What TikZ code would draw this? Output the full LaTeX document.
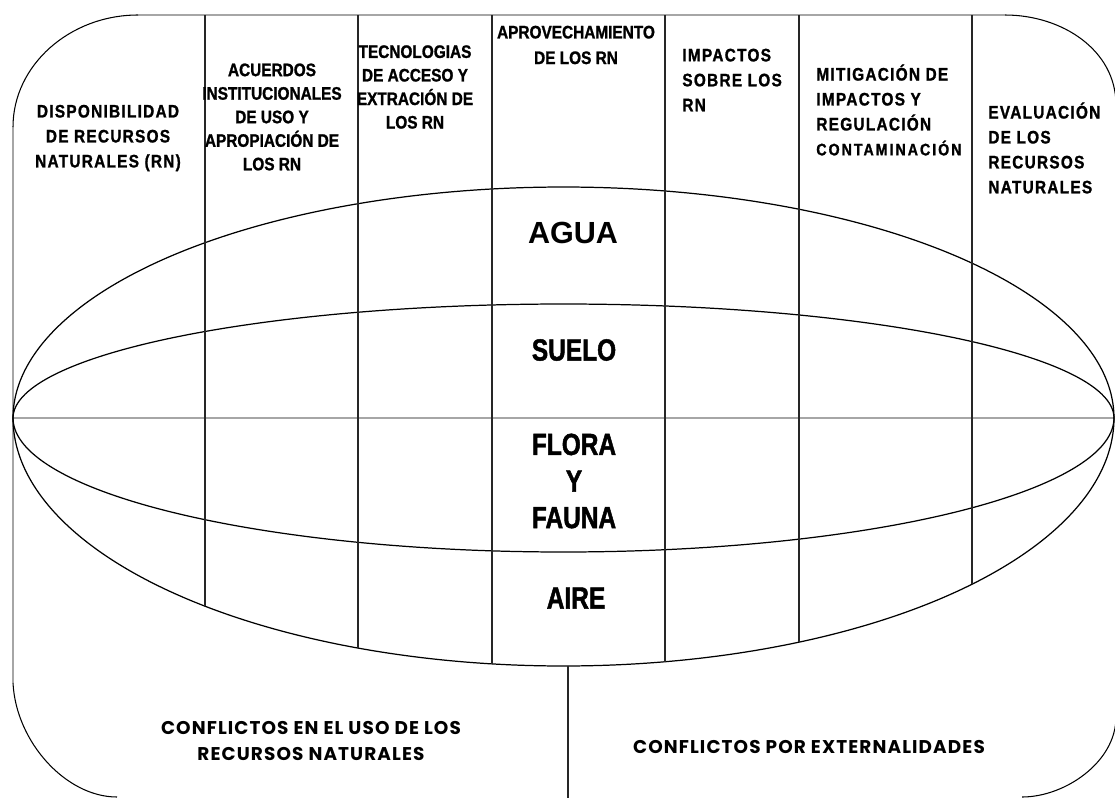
\documentclass[tikz,border=0pt]{standalone}
\usepackage{fontspec}
\setmainfont{Liberation Sans}
\newfontfamily\hdrfont[FakeStretch=0.85,FakeBold=1.2]{Liberation Sans Bold}
\newfontfamily\hdrwfont[FakeStretch=0.85,FakeBold=1.2,LetterSpace=7]{Liberation Sans Bold}
\newfontfamily\contfont[FakeStretch=0.85,FakeBold=1.2,LetterSpace=12]{Liberation Sans Bold}
\newfontfamily\elemfont[FakeStretch=0.8,FakeBold=1.5]{Liberation Sans Bold}
\newfontfamily\conffont[LetterSpace=6]{Poppins Bold}

\begin{document}
\begin{tikzpicture}[x=0.02cm,y=-0.02cm,
  frameline/.style={black,line width=0.6pt},
  grayline/.style={gray!70,line width=1.1pt},
  colline/.style={black!85,line width=0.8pt},
  ringline/.style={black,line width=0.7pt},
  hdr/.style={font=\hdrfont\fontsize{10.3}{13.4}\selectfont,align=center,inner sep=0pt},
  hdrw/.style={font=\hdrwfont\fontsize{10.3}{14.2}\selectfont,align=center,inner sep=0pt},
  elem/.style={font=\elemfont\fontsize{17.4}{20.8}\selectfont,align=center,inner sep=0pt},
  conf/.style={font=\conffont\fontsize{10.5}{15.3}\selectfont,align=center,inner sep=0pt}]
\useasboundingbox (0,0) rectangle (1115,798);

% outer frame
\draw[grayline] (138,15) -- (1005,15);
\draw[gray!70,line width=0.7pt] (13,127) -- (13,683);
\draw[frameline] (13,127) .. controls (13,65) and (70,15) .. (138,15);
\draw[frameline] (1005,15) .. controls (1062,15) and (1116,50) .. (1116,105);
\draw[frameline] (13,683) .. controls (16,742) and (66,797) .. (117,797);
\draw[frameline] (1116,717) .. controls (1116,762) and (1065,797) .. (1022,797);

% resource rings
\draw[grayline] (13,418) -- (1114,418);
\draw[ringline] plot[domain=0:180,samples=120,smooth] ({563.5+550.5*cos(\x)},{418-231*sin(\x)});
\draw[ringline] plot[domain=0:180,samples=120,smooth] ({563.5+550.5*cos(\x)},{418-114*sin(\x)});
\draw[ringline] plot[domain=0:180,samples=120,smooth] ({563.5+550.5*cos(\x)},{418+134*sin(\x)});
\draw[ringline] plot[domain=0:180,samples=120,smooth] ({563.5+550.5*cos(\x)},{418+248*sin(\x)});

\foreach \cx in {205,358,492,665,799,972}
  \draw[colline] (\cx,15) -- (\cx,{418+248*sqrt(1-((\cx-563.5)/550.5)^2)});
\draw[colline] (568,{418+248*sqrt(1-((568-563.5)/550.5)^2)}) -- (568,798);

% column headers
\node[hdrw] (disp) at (108,138) {DISPONIBILIDAD\\DE RECURSOS\\NATURALES (RN)};
\node[hdr] (acuer) at (272,117) {ACUERDOS\\INSTITUCIONALES\\DE USO Y\\APROPIACIÓN DE\\LOS RN};
\node[hdr] (tecno) at (415,87) {TECNOLOGIAS\\DE ACCESO Y\\EXTRACIÓN DE\\LOS RN};
\node[hdr,font=\hdrfont\fontsize{10.3}{14.6}\selectfont] (aprov) at (576,45) {APROVECHAMIENTO\\DE LOS RN};
\node[hdrw,align=left,anchor=west] (impac) at (682,80) {IMPACTOS\\SOBRE LOS\\RN};
\node[hdrw,align=left,anchor=west] (mitig) at (816,110) {MITIGACIÓN DE\\IMPACTOS Y\\REGULACIÓN\\{\contfont\fontsize{9.5}{14.2}\selectfont CONTAMINACIÓN}};
\node[hdrw,align=left,anchor=west] (evalu) at (988,148) {EVALUACIÓN\\DE LOS\\RECURSOS\\NATURALES};

% resources
\node[elem,font=\bfseries\fontsize{17.4}{20.8}\selectfont] (agua) at (573,233) {AGUA};
\node[elem] (suelo) at (574,350) {SUELO};
\node[elem] (flora) at (574,481) {FLORA\\Y\\FAUNA};
\node[elem] (aire) at (576,598) {AIRE};

% conflicts
\node[conf] (usoconf) at (311,741) {CONFLICTOS EN EL USO DE LOS\\RECURSOS NATURALES};
\node[conf] (extconf) at (809,747) {CONFLICTOS POR EXTERNALIDADES};
\end{tikzpicture}
\end{document}
